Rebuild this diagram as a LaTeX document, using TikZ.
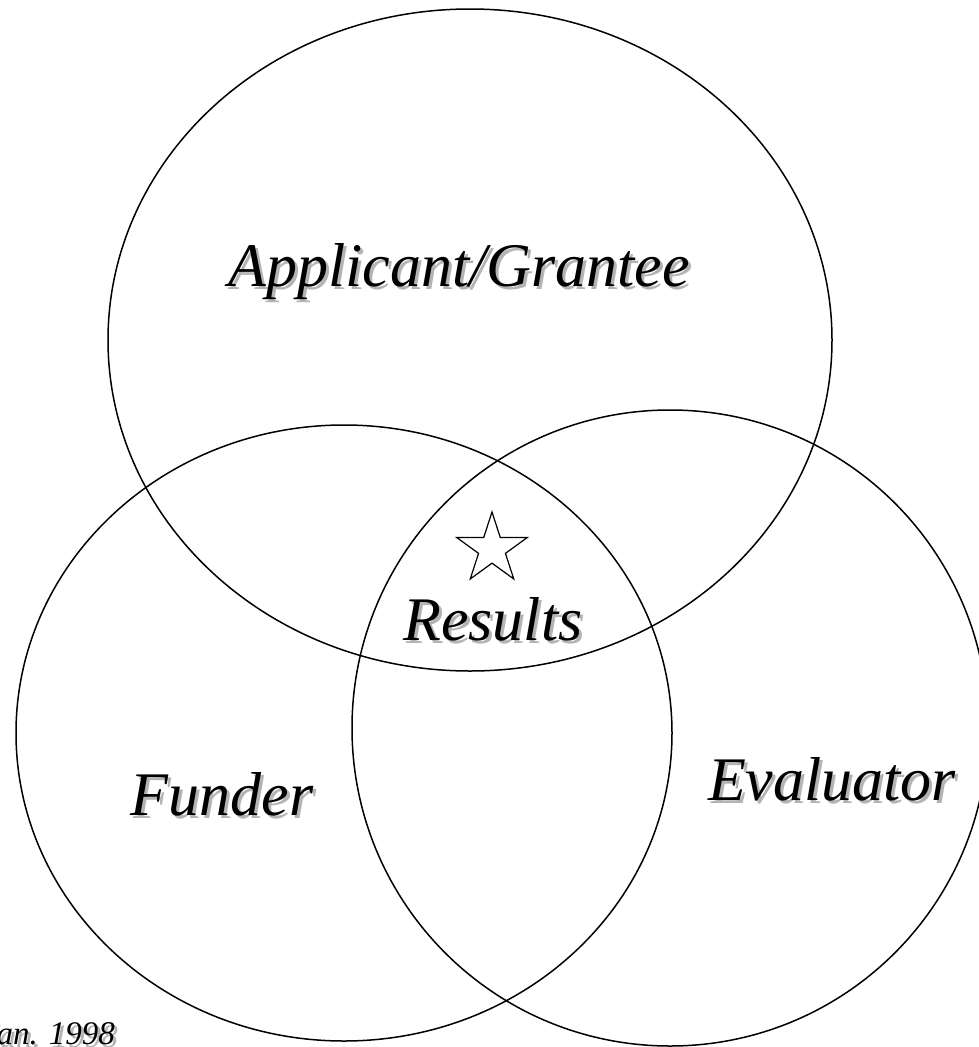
\documentclass[tikz,border=0pt]{standalone}
\usepackage{fontspec}
\setmainfont{Liberation Serif}
\usepackage{tikz}
\usetikzlibrary{shapes.geometric}
\tikzstyle{venn} = [x = 1pt, y = -1pt]
\definecolor{shadowColor}{RGB}{180,180,180}
\tikzstyle{ringStyle} = [draw, ellipse, color=black, line width=1.5pt, inner sep=0pt]
\tikzstyle{labelText} = [font=\fontsize{62}{70}\selectfont\itshape, anchor=base, inner sep=0pt]
\tikzstyle{noteText} = [font=\fontsize{33}{38}\selectfont\itshape, anchor=base east, inner sep=0pt]
\tikzstyle{starStyle} = [draw, star, star points=5, star point ratio=2.618, line width=1.2pt, minimum size=74pt, inner sep=0pt]
\newcommand{\shadowOffset}{3}
\newcommand{\ring}[5]{\node [ringStyle, minimum width=#4 * 2pt, minimum height=#5 * 2pt] (#1) at (#2, #3) {};}
\newcommand{\shadowLabel}[5]{
  \node [#1, text=shadowColor] (#2Shadow) at (#3 + \shadowOffset, #4 + \shadowOffset) {#5};
  \node [#1] (#2) at (#3, #4) {#5};
}

\begin{document}
\begin{tikzpicture}[venn]
  \useasboundingbox (0,0) rectangle (979,1047);
  \clip (0,0) rectangle (979,1047);
  % the three rings
  \ring{applicant}{470}{340}{362}{331}
  \ring{funder}{344}{733}{328}{308}
  \ring{evaluator}{670}{728}{318}{318}
  % labels
  \shadowLabel{labelText}{applicantLabel}{459}{286}{Applicant/Grantee}
  \shadowLabel{labelText}{funderLabel}{222}{815}{Funder}
  \shadowLabel{labelText}{evaluatorLabel}{832}{800}{Evaluator}
  \shadowLabel{labelText}{resultsLabel}{493}{640}{Results}
  \node [starStyle] (star) at (492, 549) {};
  \shadowLabel{noteText}{dateNote}{115}{1044}{Jan. 1998}
\end{tikzpicture}
\end{document}
